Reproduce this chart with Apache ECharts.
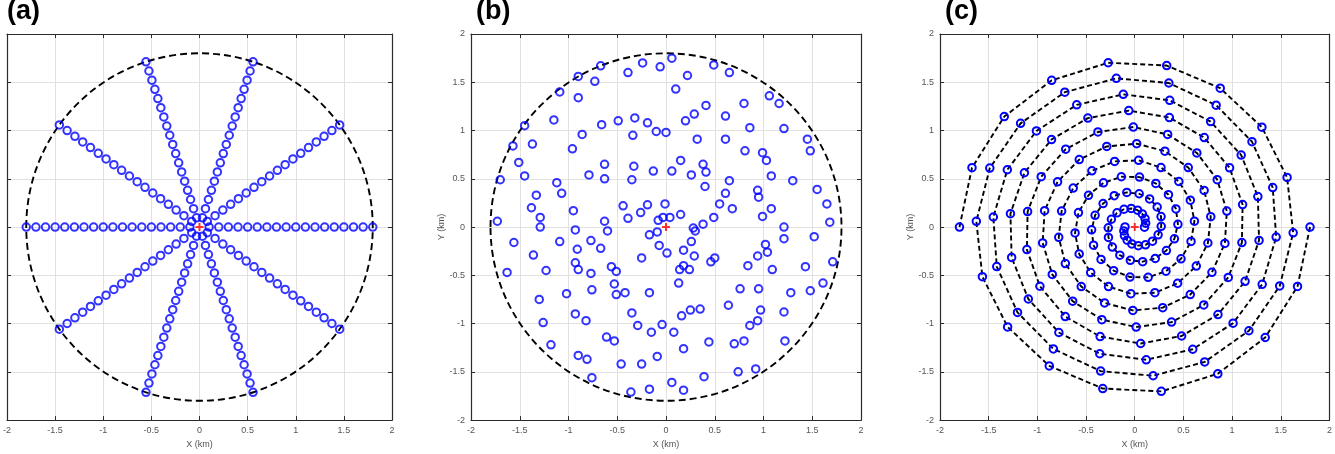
<!DOCTYPE html>
<html>
<head>
<meta charset="utf-8">
<script src="https://cdn.jsdelivr.net/npm/echarts@6/dist/echarts.min.js"></script>
<style>
    html, body { margin: 0; padding: 0; background: #fff; }
    #main { width: 1335px; height: 454px; }
</style>
</head>
<body>
<div id="main"></div>
<script>
// (a) radial spokes: angle of each spoke (deg) and radius of the rings of stations (km)
const spoke_deg = [0, 36, 72, 108, 144, 180, 216, 252, 288, 324]
const spoke_r = [0.1, 0.2, 0.3, 0.4, 0.5, 0.6, 0.7, 0.8, 0.9, 1.0, 1.1, 1.2, 1.3, 1.4, 1.5, 1.6, 1.7, 1.8]

// (b) scattered stations (km)
const scatter_x = [0.06, -0.24, -0.06, -0.67, 0.49, 0.65, -0.39, 0.22, -0.90, -0.73,
    0.10, -1.09, -0.90, 1.06, 1.16, 0.80, 0.41, 0.29, 0.61, -0.32,
    -1.15, 0.20, -0.49, -0.19, -0.66, -1.45, 0.86, 1.21, -0.10, 0.00,
    -0.86, -0.34, 0.32, 0.61, 1.45, -1.37, -1.57, -0.96, 1.48, 0.81,
    0.99, 1.03, 0.15, -1.51, -0.63, 0.38, -0.33, -0.13, 0.06, 0.41,
    -0.79, 0.26, -1.45, 1.08, -1.70, -0.63, -0.35, 0.65, 1.30, -1.12,
    0.40, 1.55, 0.94, -1.07, 0.61, -1.33, 0.95, 0.55, -0.01, 1.65,
    -0.44, -0.19, -1.38, 0.68, 1.08, -0.95, -0.26, 0.15, -1.29, -0.03,
    0.04, 0.49, 0.99, -0.39, -0.08, -0.63, -1.73, 1.68, 0.38, -1.29,
    1.21, 0.28, 0.30, -0.93, -0.60, -0.09, -0.17, 1.52, 1.21, -1.09,
    -0.77, -1.56, 0.26, 1.02, -0.07, -0.67, -0.91, 0.18, 1.04, 0.01,
    -1.36, 0.29, 0.94, -0.25, 0.50, 0.46, 1.71, -0.93, 0.84, -0.56,
    0.18, 1.43, -0.90, -1.23, 0.14, 0.24, 1.09, -0.51, -1.63, -0.77,
    0.13, -0.53, 1.61, -0.76, 0.76, 0.95, 1.48, -0.17, 1.28, -0.42,
    -0.51, -1.02, -1.30, 0.64, -0.35, 0.35, 0.25, 0.97, -0.93, 0.16,
    1.21, -0.82, 0.94, -1.26, -0.04, -0.29, 0.86, -0.15, 0.08, -0.61,
    -0.53, 0.44, 1.22, -1.18, 0.70, 0.80, 0.18, -0.90, -0.09, -0.81,
    -0.46, -0.25, 0.74, 0.92, -0.76, 0.39, 0.06, -0.17, -0.36, 0.18]
const scatter_y = [1.75, 1.70, 1.66, 1.67, 1.68, 1.60, 1.60, 1.57, 1.56, 1.51,
    1.43, 1.40, 1.34, 1.36, 1.28, 1.28, 1.26, 1.17, 1.15, 1.13,
    1.11, 1.10, 1.10, 1.08, 1.06, 1.05, 1.03, 1.02, 0.99, 0.98,
    0.96, 0.95, 0.91, 0.91, 0.91, 0.86, 0.84, 0.81, 0.79, 0.79,
    0.77, 0.69, 0.69, 0.67, 0.65, 0.65, 0.63, 0.58, 0.58, 0.57,
    0.54, 0.54, 0.53, 0.53, 0.49, 0.50, 0.49, 0.48, 0.48, 0.46,
    0.42, 0.39, 0.38, 0.35, 0.35, 0.33, 0.31, 0.24, 0.24, 0.24,
    0.22, 0.23, 0.20, 0.19, 0.19, 0.17, 0.15, 0.13, 0.10, 0.10,
    0.10, 0.10, 0.11, 0.09, 0.07, 0.06, 0.06, 0.05, 0.03, 0.00,
    0.00, -0.01, -0.04, -0.03, -0.04, -0.05, -0.08, -0.10, -0.12, -0.15,
    -0.14, -0.16, -0.15, -0.18, -0.19, -0.22, -0.23, -0.24, -0.26, -0.27,
    -0.29, -0.30, -0.30, -0.32, -0.32, -0.36, -0.36, -0.37, -0.40, -0.41,
    -0.40, -0.41, -0.44, -0.45, -0.44, -0.44, -0.44, -0.46, -0.47, -0.48,
    -0.58, -0.59, -0.58, -0.65, -0.64, -0.64, -0.66, -0.68, -0.68, -0.68,
    -0.70, -0.69, -0.75, -0.81, -0.89, -0.85, -0.86, -0.86, -0.90, -0.92,
    -0.88, -0.97, -0.97, -0.99, -1.01, -1.02, -1.02, -1.09, -1.09, -1.14,
    -1.18, -1.19, -1.18, -1.22, -1.21, -1.18, -1.26, -1.33, -1.34, -1.37,
    -1.42, -1.42, -1.50, -1.47, -1.56, -1.55, -1.61, -1.68, -1.71, -1.69]

// (c) two-arm spiral, stations listed from the outside in: radius (km), angle of arm A and arm B (deg)
const spiral_r = [1.800, 1.781, 1.762, 1.743, 1.724, 1.705, 1.685, 1.666, 1.647, 1.628,
    1.609, 1.590, 1.571, 1.552, 1.533, 1.514, 1.494, 1.475, 1.456, 1.437,
    1.418, 1.399, 1.380, 1.361, 1.342, 1.323, 1.303, 1.284, 1.265, 1.246,
    1.227, 1.208, 1.189, 1.170, 1.151, 1.132, 1.112, 1.093, 1.074, 1.055,
    1.036, 1.017, 0.998, 0.979, 0.960, 0.941, 0.921, 0.902, 0.883, 0.864,
    0.845, 0.826, 0.807, 0.788, 0.769, 0.750, 0.730, 0.711, 0.692, 0.673,
    0.654, 0.635, 0.616, 0.597, 0.578, 0.559, 0.539, 0.520, 0.501, 0.482,
    0.463, 0.444, 0.425, 0.406, 0.387, 0.368, 0.348, 0.329, 0.310, 0.291,
    0.272, 0.253, 0.234, 0.215, 0.196, 0.177, 0.157, 0.138, 0.119, 0.100]
const spiral_a_deg = [180, 159.8, 139.5, 119.3, 99.1, 78.9, 58.6, 38.4, 18.2, -2.1,
    -22.3, -42.5, -62.8, -83.0, -103.2, -123.5, -143.7, -163.9, 175.9, 155.6,
    135.4, 115.2, 94.9, 74.7, 54.5, 34.3, 14.0, -6.2, -26.4, -46.7,
    -66.9, -87.1, -107.4, -127.6, -147.8, -168.1, 171.7, 151.5, 131.3, 111.0,
    90.8, 70.6, 50.3, 30.1, 9.9, -10.4, -30.6, -50.8, -71.0, -91.3,
    -111.5, -131.7, -152.0, -172.2, 167.6, 147.4, 127.1, 106.9, 86.7, 66.4,
    46.2, 26.0, 5.7, -14.5, -34.7, -55.0, -75.2, -95.4, -115.6, -135.9,
    -156.1, -176.3, 163.4, 143.2, 123.0, 102.8, 82.5, 62.3, 42.1, 21.8,
    1.6, -18.6, -38.9, -59.1, -79.3, -99.6, -119.8, -140.0, -160.2, 179.5]
const spiral_b_deg = [0, -20.2, -40.5, -60.7, -80.9, -101.1, -121.4, -141.6, -161.8, 177.9,
    157.7, 137.5, 117.2, 97.0, 76.8, 56.5, 36.3, 16.1, -4.1, -24.4,
    -44.6, -64.8, -85.1, -105.3, -125.5, -145.7, -166.0, 173.8, 153.6, 133.3,
    113.1, 92.9, 72.6, 52.4, 32.2, 11.9, -8.3, -28.5, -48.7, -69.0,
    -89.2, -109.4, -129.7, -149.9, -170.1, 169.6, 149.4, 129.2, 109.0, 88.7,
    68.5, 48.3, 28.0, 7.8, -12.4, -32.6, -52.9, -73.1, -93.3, -113.6,
    -133.8, -154.0, -174.3, 165.5, 145.3, 125.0, 104.8, 84.6, 64.4, 44.1,
    23.9, 3.7, -16.6, -36.8, -57.0, -77.2, -97.5, -117.7, -137.9, -158.2,
    -178.4, 161.4, 141.1, 120.9, 100.7, 80.4, 60.2, 40.0, 19.8, -0.5]

// shared: array boundary [cx, cy, radius] and the source position
const boundary = [[0, 0, 1.8]]
const source = [[0, 0]]
const panel_titles = ['(a)', '(b)', '(c)']

let main_chart = echarts.init(document.getElementById('main'))

const to_xy = (r, d) => [r * Math.cos(d * Math.PI / 180), r * Math.sin(d * Math.PI / 180)]

let spoke_points = []
spoke_deg.forEach((d) => {
    spoke_r.forEach((r) => spoke_points.push(to_xy(r, d)))
})
const scatter_points = scatter_x.map((x, i) => [x, scatter_y[i]])
const arm_a = spiral_r.map((r, k) => to_xy(r, spiral_a_deg[k]))
const arm_b = spiral_r.map((r, k) => to_xy(r, spiral_b_deg[k]))

const grid_left = [2, 471, 940]
const title_left = [7, 476, 945]
const label_color = '#555'
const box_color = '#2b2b2b'
const plus_path = 'path://M3,0h2v3h3v2h-3v3h-2v-3h-3v-2h3z'

function axes(kind, i) {
    const common = {
        type: 'value', gridIndex: i, min: -2, max: 2, interval: 0.5,
        axisLine: {onZero: false, lineStyle: {color: box_color, width: 1.2}},
        axisTick: {inside: true, length: 4, lineStyle: {color: box_color}}
    }
    const main_axis = Object.assign({}, common, {
        position: kind === 'x' ? 'bottom' : 'left',
        name: kind === 'x' ? 'X (km)' : 'Y (km)',
        nameLocation: 'middle',
        nameGap: kind === 'x' ? 16 : 24,
        nameTextStyle: {fontSize: 9, color: label_color, fontFamily: 'Liberation Sans'},
        axisLabel: {fontSize: 9, color: label_color, margin: 6, fontFamily: 'Liberation Sans'},
        splitLine: {lineStyle: {color: '#e1e1e1', width: 1}}
    })
    if (kind === 'y' && i === 0) {
        // panel (a) is cut at its left edge
        main_axis.axisLabel = {show: false}
        main_axis.name = ''
    }
    const mirror_axis = Object.assign({}, common, {
        position: kind === 'x' ? 'top' : 'right',
        axisLabel: {show: false},
        splitLine: {show: false}
    })
    return [main_axis, mirror_axis]
}

function circle_series(i) {
    return {
        type: 'custom', xAxisIndex: 2 * i, yAxisIndex: 2 * i, data: boundary, silent: true, z: 1,
        renderItem: function (params, api) {
            const c = api.coord([api.value(0), api.value(1)])
            const s = api.size([api.value(2), api.value(2)])
            return {
                type: 'ellipse',
                shape: {cx: c[0], cy: c[1], rx: s[0], ry: s[1]},
                style: {fill: null, stroke: '#000', lineWidth: 1.9, lineDash: [7, 4]}
            }
        }
    }
}

function station_series(i, data) {
    return {
        type: 'scatter', xAxisIndex: 2 * i, yAxisIndex: 2 * i, data: data, z: 3,
        symbol: 'circle', symbolSize: 7.5,
        itemStyle: {color: 'rgba(0,0,0,0)', borderColor: '#0000ff', borderWidth: 2}
    }
}

function arm_series(data) {
    return {
        type: 'line', xAxisIndex: 4, yAxisIndex: 4, data: data, z: 3,
        symbol: 'circle', symbolSize: 7.5, showSymbol: true,
        lineStyle: {color: '#000', width: 1.9, type: [5, 3]},
        itemStyle: {color: 'rgba(0,0,0,0)', borderColor: '#0000ff', borderWidth: 2}
    }
}

function source_series(i) {
    return {
        type: 'scatter', xAxisIndex: 2 * i, yAxisIndex: 2 * i, data: source, z: 5,
        symbol: plus_path, symbolSize: 8, itemStyle: {color: '#ff0000'}
    }
}

let x_axes = [], y_axes = []
for (let i = 0; i < 3; i++) {
    x_axes = x_axes.concat(axes('x', i))
    y_axes = y_axes.concat(axes('y', i))
}

let main_option = {
    animation: false,
    backgroundColor: '#fff',
    title: panel_titles.map((t, i) => ({
        text: t, left: title_left[i], top: -2, padding: 0,
        textStyle: {fontSize: 27, fontWeight: 'bold', color: '#000', fontFamily: 'Liberation Sans'}
    })),
    grid: grid_left.map((l) => ({left: l, top: 34, width: 390, height: 392})),
    xAxis: x_axes,
    yAxis: y_axes,
    series: [
        circle_series(0),
        station_series(0, spoke_points),
        source_series(0),
        circle_series(1),
        station_series(1, scatter_points),
        source_series(1),
        arm_series(arm_a),
        arm_series(arm_b),
        source_series(2)
    ]
}

main_chart.setOption(main_option)
</script>
</body>
</html>
